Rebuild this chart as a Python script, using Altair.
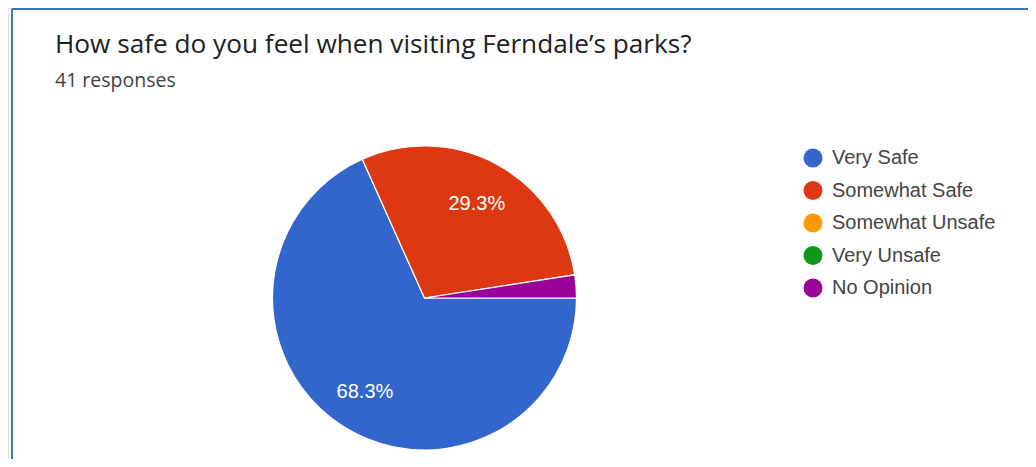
import math
import altair as alt
import pandas as pd

# ---- data ----
categories = ["Very Safe", "Somewhat Safe", "Somewhat Unsafe", "Very Unsafe", "No Opinion"]
counts = [28, 12, 0, 0, 1]
colors = ["#3366CC", "#DC3912", "#FF9900", "#109618", "#990099"]
title_lines = ["How safe do you feel when visiting Ferndale\u2019s parks?"]
subtitle_lines = ["41 responses"]

total = sum(counts)
rows = []
for i, (c, n) in enumerate(zip(categories, counts)):
    pct = n / total * 100
    rows.append({
        "category": c,
        "count": n,
        "order": i,
        "label": f"{pct:.1f}%" if pct >= 5 else "",
    })
df = pd.DataFrame(rows)
df = df[df["count"] > 0]

W, H = 1020, 451
CX, CY, R = 416.5, 290, 152
FRAME = "#3b74b9"

color_scale = alt.Scale(domain=categories, range=colors)
theta_scale = alt.Scale(range=[math.pi / 2, math.pi / 2 + 2 * math.pi])

base = alt.Chart(df)

arcs = base.mark_arc(stroke="white", strokeWidth=1.2).encode(
    theta=alt.Theta("count:Q", stack=True, scale=theta_scale),
    color=alt.Color(
        "category:N",
        scale=color_scale,
        legend=alt.Legend(
            title=None,
            orient="none",
            legendX=795,
            legendY=140,
            symbolType="circle",
            symbolSize=361,
            symbolStrokeWidth=0,
            labelFont="Liberation Sans",
            labelFontSize=20,
            labelColor="#444444",
            labelOffset=9,
            rowPadding=12.5,
            padding=0,
            labelLimit=300,
        ),
    ),
    order=alt.Order("order:Q"),
    x=alt.value(CX),
    y=alt.value(CY),
    radius=alt.value(R),
)

labels = base.mark_text(
    font="Liberation Sans", fontSize=20, color="white", align="center",
    baseline="middle", dy=2
).encode(
    theta=alt.Theta("count:Q", stack=True, scale=theta_scale),
    order=alt.Order("order:Q"),
    text="label:N",
    x=alt.value(CX),
    y=alt.value(CY),
    radius=alt.value(109.5),
)

title = alt.Chart(pd.DataFrame({"t": title_lines})).mark_text(
    font="Open Sans", fontSize=26.2, color="#202124", align="left", baseline="alphabetic"
).encode(text="t:N", x=alt.value(47), y=alt.value(45))

subtitle = alt.Chart(pd.DataFrame({"t": subtitle_lines})).mark_text(
    font="Open Sans", fontSize=19.5, color="#3c4043", align="left", baseline="alphabetic"
).encode(text="t:N", x=alt.value(47), y=alt.value(79))

frame_df = pd.DataFrame({"k": [0]})
left = alt.Chart(frame_df).mark_rule(color=FRAME, strokeWidth=2).encode(
    x=alt.value(4), y=alt.value(1), y2=alt.value(H)
)
right = alt.Chart(frame_df).mark_rule(color=FRAME, strokeWidth=2).encode(
    x=alt.value(1022), y=alt.value(1), y2=alt.value(H)
)
top = alt.Chart(frame_df).mark_rule(color=FRAME, strokeWidth=2).encode(
    x=alt.value(4), x2=alt.value(1022), y=alt.value(1)
)

chart = alt.layer(arcs, labels, title, subtitle, left, right, top).properties(
    width=W, height=H, padding=0, autosize=alt.AutoSizeParams(type="none")
).configure_view(stroke=None).configure(background="white")

chart.save("out.html", embed_options={"renderer": "svg", "actions": False})
